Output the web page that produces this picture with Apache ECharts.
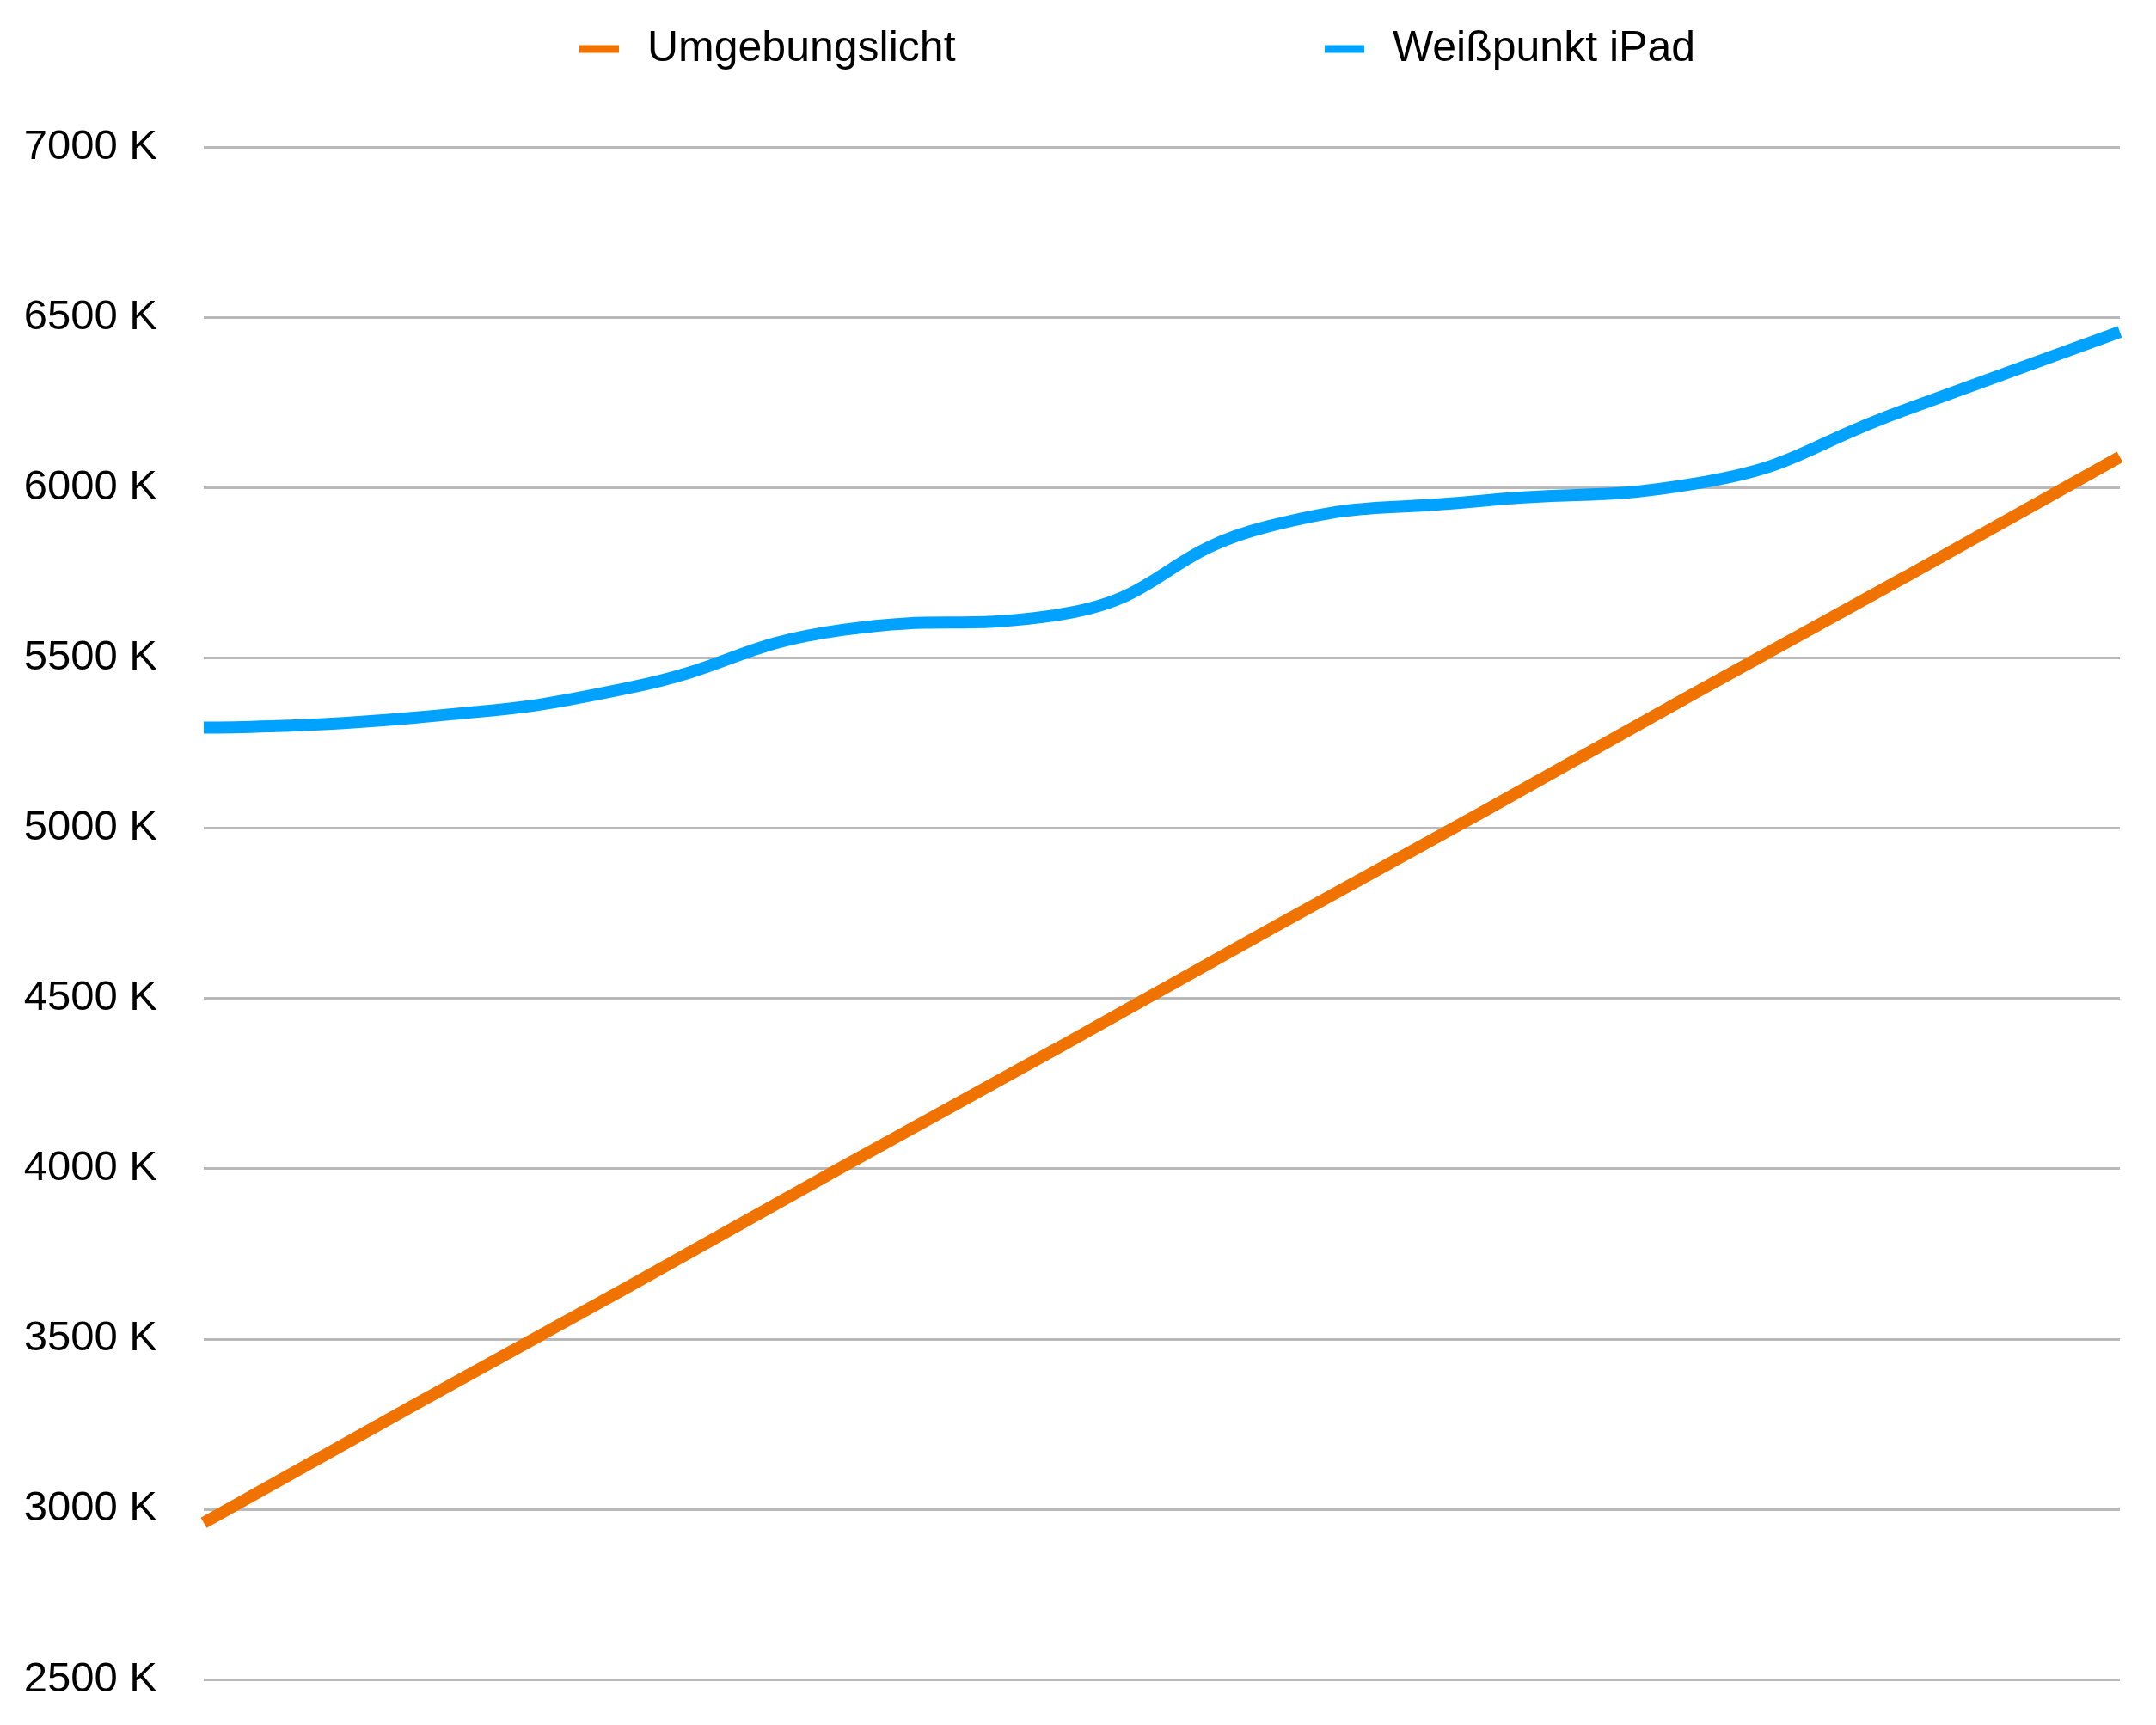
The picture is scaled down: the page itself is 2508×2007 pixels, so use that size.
<!DOCTYPE html>
<html>
<head>
<meta charset="utf-8">
<script src="https://cdn.jsdelivr.net/npm/echarts@6/dist/echarts.min.js"></script>
<style>
html,body{margin:0;padding:0;background:#fff;}
#chart{width:2508px;height:2007px;}
</style>
</head>
<body>
<div id="chart"></div>
<script>
const categories = ['1','2','3','4','5','6','7','8','9','10'];
const umgebungslicht = [2960, 3310, 3655, 4005, 4350, 4700, 5045, 5395, 5740, 6090];
const weisspunktIPad = [5295, 5325, 5412, 5582, 5625, 5886, 5961, 6011, 6230, 6457];
const seriesNames = ['Umgebungslicht', 'Weißpunkt iPad'];
const yTicks = { min: 2500, max: 7000, interval: 500 };

const font = '"Liberation Sans", Arial, Helvetica, sans-serif';
const chart = echarts.init(document.getElementById('chart'), null, {renderer: 'canvas'});
const legendBase = {
  top: 29,
  padding: 0,
  icon: 'rect',
  itemWidth: 46,
  itemHeight: 9,
  textStyle: { fontFamily: font, fontSize: 50, color: '#000', padding: [0, 0, 0, 28], lineHeight: 56 }
};
chart.setOption({
  animation: false,
  backgroundColor: '#fff',
  legend: [
    Object.assign({}, legendBase, { left: 674, data: [seriesNames[0]] }),
    Object.assign({}, legendBase, { left: 1541, data: [seriesNames[1]] })
  ],
  grid: { left: 237, right: 42, top: 171, bottom: 53, containLabel: false },
  xAxis: {
    type: 'category',
    data: categories,
    boundaryGap: false,
    axisLine: { show: false },
    axisTick: { show: false },
    axisLabel: { show: false },
    splitLine: { show: false }
  },
  yAxis: {
    type: 'value',
    min: yTicks.min,
    max: yTicks.max,
    interval: yTicks.interval,
    axisLine: { show: false },
    axisTick: { show: false },
    axisLabel: {
      formatter: function (v) { return String(v) + ' K'; },
      fontFamily: font,
      fontSize: 49,
      color: '#000',
      margin: 54
    },
    splitLine: { lineStyle: { color: '#b9b9b9', width: 3 } }
  },
  series: [
    {
      name: seriesNames[0],
      type: 'line',
      data: umgebungslicht,
      showSymbol: false,
      symbol: 'none',
      color: '#f07300',
      lineStyle: { width: 14, color: '#f07300' }
    },
    {
      name: seriesNames[1],
      type: 'line',
      data: weisspunktIPad,
      showSymbol: false,
      symbol: 'none',
      smooth: 0.5,
      color: '#00a2ff',
      lineStyle: { width: 14, color: '#00a2ff' }
    }
  ]
});
</script>
</body>
</html>
